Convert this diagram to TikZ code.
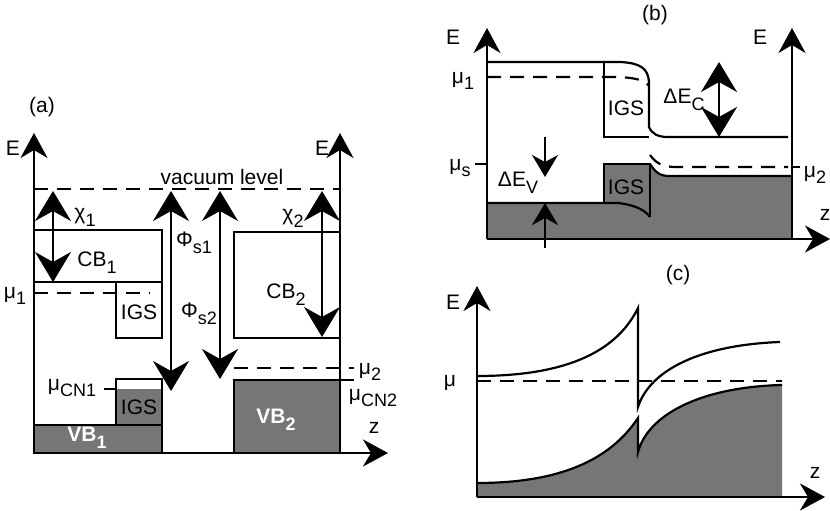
\documentclass[tikz,border=0pt]{standalone}
\usepackage{fontspec}
\setmainfont{Liberation Sans}
\usetikzlibrary{arrows.meta}
\definecolor{bandgray}{RGB}{118,118,118}
\newcommand\sbs[1]{\raisebox{-0.32em}{\fontsize{18}{18}\selectfont #1}}
\begin{document}
\begin{tikzpicture}[x=1pt,y=-1pt,
  lbl/.style={inner sep=0pt,font=\fontsize{21}{23}\selectfont},
  wlbl/.style={lbl,text=white,font=\fontsize{21}{23}\selectfont\bfseries},
  axisline/.style={line width=2.3pt,-{Stealth[length=25pt,width=27pt,inset=8pt]}},
  bandline/.style={line width=2.2pt},
  dsh/.style={line width=2.2pt,dash pattern=on 14pt off 9pt},
  bigdbl/.style={line width=2.2pt,{Stealth[length=30pt,width=36pt,inset=10pt]}-{Stealth[length=30pt,width=36pt,inset=10pt]}},
  smallarr/.style={line width=2.2pt,-{Stealth[length=22pt,width=26pt,inset=7pt]}},
  gfill/.style={fill=bandgray}]
\useasboundingbox (0,0) rectangle (830,511);

% ================= panel (a) =================
\coordinate (aO) at (34,453);
\coordinate (aEtop) at (34,133);
\coordinate (aZ) at (388,453);
\coordinate (aRb) at (340,453);
\coordinate (aRtop) at (340,133);
% fills
\filldraw[gfill,bandline] (34,425) rectangle (162,453);
\fill[gfill] (116,389) rectangle (162,425);
\draw[bandline] (116,379) rectangle (162,425);
\filldraw[gfill,bandline] (234,380) rectangle (340,453);
% boxes
\draw[bandline] (34,230) rectangle (162,282);
\draw[bandline] (116,282) rectangle (162,338);
\draw[bandline] (234,232) rectangle (340,338);
% levels
\draw[dsh] (34,189) -- (340,189);
\draw[dsh] (34,293) -- (150,293);
\draw[dsh] (234,368) -- (354,368);
\draw[bandline] (104,389) -- (116,389);
\draw[bandline] (340,380) -- (354,380);
% axes
\draw[axisline] (aO) -- (aEtop);
\draw[axisline] (aRb) -- (aRtop);
\draw[axisline] (aO) -- (aZ);
% arrows
\coordinate (chi1a) at (53,191); \coordinate (chi1b) at (53,282);
\coordinate (phi1a) at (171,191); \coordinate (phi1b) at (171,391);
\coordinate (phi2a) at (220,191); \coordinate (phi2b) at (220,379);
\coordinate (chi2a) at (322,191); \coordinate (chi2b) at (322,337);
\draw[bigdbl] (chi1a) -- (chi1b);
\draw[bigdbl] (phi1a) -- (phi1b);
\draw[bigdbl] (phi2a) -- (phi2b);
\draw[bigdbl] (chi2a) -- (chi2b);
% labels
\node[lbl] (la) at (42,107) {(a)};
\node[lbl] (aE1) at (13,148) {E};
\node[lbl] (aE2) at (322,148) {E};
\node[lbl] (vac) at (222,177) {vacuum level};
\node[lbl] (chi1) at (85,217) {χ\sbs{1}};
\node[lbl] (chi2) at (293,218) {χ\sbs{2}};
\node[lbl] (cb1) at (97,263) {CB\sbs{1}};
\node[lbl] (cb2) at (286,295) {CB\sbs{2}};
\node[lbl] (igs1) at (139,312) {IGS};
\node[lbl] (igs2) at (139,407) {IGS};
\node[lbl] (mu1) at (15,296) {μ\sbs{1}};
\node[lbl] (phis1) at (194,243) {Φ\sbs{s1}};
\node[lbl] (phis2) at (199,314) {Φ\sbs{s2}};
\node[lbl] (mu2) at (370,372) {μ\sbs{2}};
\node[lbl] (mucn2) at (373,398) {μ\sbs{CN2}};
\node[lbl] (mucn1) at (72,388) {μ\sbs{CN1}};
\node[lbl] (za) at (374,428) {z};
\node[wlbl] (vb1) at (87,438) {VB\sbs{1}};
\node[wlbl] (vb2) at (276,420) {VB\sbs{2}};

% ================= panel (b) =================
\coordinate (bO) at (487,239);
\coordinate (bEtop) at (487,28);
\coordinate (bRb) at (792,239);
\coordinate (bRtop) at (792,28);
\coordinate (bZ) at (830,239);
\fill[gfill] (487,239) -- (487,203) -- (604,203) -- (604,164) -- (650,164)
  .. controls (656,173) and (660,176) .. (670,176) -- (792,176) -- (792,239) -- cycle;
\draw[bandline] (487,203) -- (618,203) .. controls (635,205) and (645,210) .. (650,217);
\draw[bandline] (604,203) -- (604,164) -- (650,164) -- (650,217);
\draw[bandline] (650,164) .. controls (656,173) and (660,176) .. (670,176) -- (792,176);
\draw[bandline] (487,62) -- (620,62) .. controls (640,63) and (648,68) .. (649,82)
  -- (649,127) .. controls (652,134) and (658,137) .. (668,137) -- (788,137);
\draw[bandline] (604,62) -- (604,137) -- (649,137);
\draw[dsh] (487,77) -- (620,77) .. controls (635,78) and (645,80) .. (649,86);
\draw[dsh] (650,155) .. controls (656,163) and (662,167) .. (676,167) -- (788,167);
\draw[bandline] (792,167) -- (800,167);
\draw[bandline] (475,164) -- (487,164);
\draw[axisline] (bO) -- (bEtop);
\draw[axisline] (bRb) -- (bRtop);
\draw[axisline] (bO) -- (bZ);
\coordinate (dec1) at (719,62); \coordinate (dec2) at (719,137);
\draw[bigdbl] (dec1) -- (dec2);
\coordinate (dev1) at (545,137); \coordinate (dev2) at (545,177);
\coordinate (dev3) at (545,248); \coordinate (dev4) at (545,203);
\draw[smallarr] (dev1) -- (dev2);
\draw[smallarr] (dev3) -- (dev4);
\node[lbl] (lb) at (655,15) {(b)};
\node[lbl] (bE1) at (453,37) {E};
\node[lbl] (bE2) at (760,37) {E};
\node[lbl] (bmu1) at (463,81) {μ\sbs{1}};
\node[lbl] (bmus) at (460,168) {μ\sbs{s}};
\node[lbl] (bdec) at (684,100) {ΔE\sbs{C}};
\node[lbl] (bigs1) at (626,108) {IGS};
\node[lbl] (bigs2) at (626,187) {IGS};
\node[lbl] (bdev) at (518,183) {ΔE\sbs{V}};
\node[lbl] (bmu2) at (815,175) {μ\sbs{2}};
\node[lbl] (bz) at (825,215) {z};

% ================= panel (c) =================
\coordinate (cO) at (477,497);
\coordinate (cEtop) at (477,286);
\coordinate (cZ) at (825,497);
\fill[gfill] (477,483) .. controls (560,483) and (610,460) .. (638,418) -- (638,452)
  .. controls (648,415) and (700,387) .. (782,385) -- (782,497) -- (477,497) -- cycle;
\draw[bandline] (477,483) .. controls (560,483) and (610,460) .. (638,418) -- (638,452)
  .. controls (648,415) and (700,387) .. (782,385);
\draw[bandline] (477,376) .. controls (560,376) and (615,355) .. (638,308) -- (638,407)
  .. controls (650,370) and (700,345) .. (780,342);
\draw[dsh] (477,381) -- (782,381);
\draw[axisline] (cO) -- (cEtop);
\draw[axisline] (cO) -- (cZ);
\node[lbl] (lc) at (678,275) {(c)};
\node[lbl] (cE) at (453,302) {E};
\node[lbl] (cmu) at (450,383) {μ};
\node[lbl] (cz) at (815,473) {z};
\end{tikzpicture}
\end{document}
